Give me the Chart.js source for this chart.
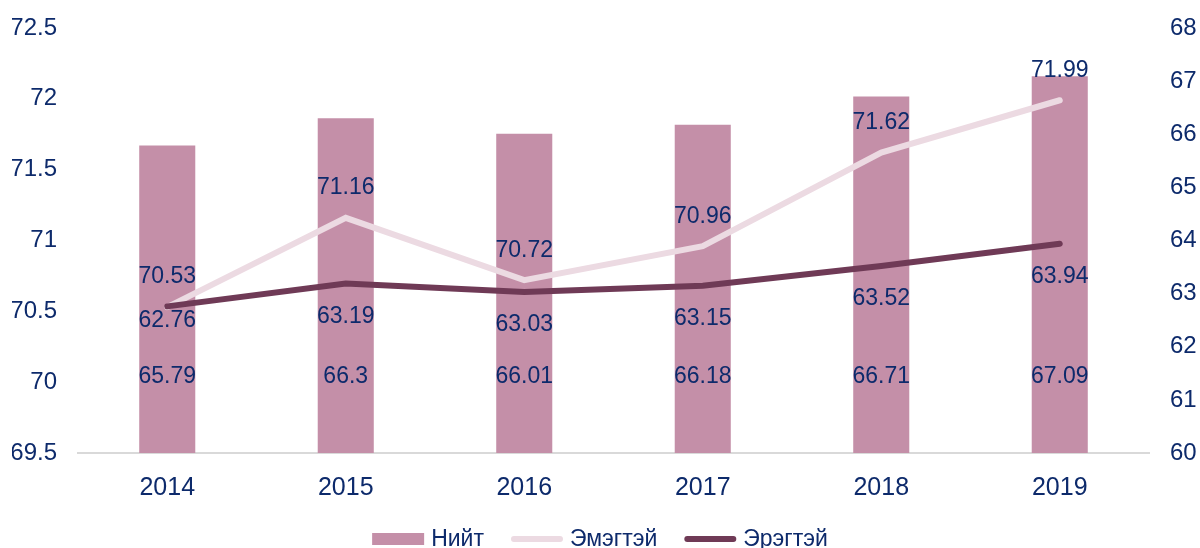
<!DOCTYPE html>
<html>
<head>
<meta charset="utf-8">
<script src="https://cdn.jsdelivr.net/npm/chart.js@4.4.0/dist/chart.umd.min.js"></script>
<style>
    html, body { margin: 0; padding: 0; background: #fff; }
</style>
</head>
<body>
<canvas id="chart" width="1200" height="548"></canvas>
<script>
const years = ["2014", "2015", "2016", "2017", "2018", "2019"];
const total = [65.79, 66.3, 66.01, 66.18, 66.71, 67.09];
const female = [70.53, 71.16, 70.72, 70.96, 71.62, 71.99];
const male = [62.76, 63.19, 63.03, 63.15, 63.52, 63.94];

const textColor = "#0d2a6b";
const fontFamily = "'Liberation Sans', Arial, sans-serif";

// value labels drawn next to each mark, like the original workbook chart
const valueLabels = {
    id: 'valueLabels',
    afterDatasetsDraw(chart) {
        const ctx = chart.ctx;
        const bottom = chart.chartArea.bottom;
        ctx.save();
        ctx.font = "23px " + fontFamily;
        ctx.fillStyle = textColor;
        ctx.textAlign = 'center';
        ctx.textBaseline = 'middle';

        chart.data.datasets.forEach((ds, di) => {
            const meta = chart.getDatasetMeta(di);
            meta.data.forEach((el, i) => {
                let y;
                if (ds.type === 'bar')
                    y = bottom - 76;
                else if (ds.label === 'Эмэгтэй')
                    y = el.y - 30;
                else
                    y = el.y + (i === 0 ? 14 : 33);
                ctx.fillText(String(ds.data[i]), el.x, y);
            });
        });
        ctx.restore();
    }
};

// bottom legend: wide bar swatch and thick line swatches, tighter than the built-in one
const bottomLegend = {
    id: 'bottomLegend',
    afterDraw(chart) {
        const ctx = chart.ctx;
        const markW = 52, textGap = 7, itemGap = 27;
        const y = chart.height - 9;
        ctx.save();
        ctx.font = "23px " + fontFamily;
        ctx.textBaseline = 'middle';
        ctx.textAlign = 'left';

        const items = chart.data.datasets.map(ds => ({
            ds: ds,
            w: markW + textGap + ctx.measureText(ds.label).width
        }));
        const totalW = items.reduce((s, it) => s + it.w, 0) + itemGap * (items.length - 1);
        let x = (chart.width - totalW) / 2;

        items.forEach(it => {
            const ds = it.ds;
            if (ds.type === 'bar') {
                ctx.fillStyle = ds.backgroundColor;
                ctx.fillRect(x, y - 6, markW, 12);
            } else {
                ctx.strokeStyle = ds.borderColor;
                ctx.lineWidth = 6;
                ctx.lineCap = 'round';
                ctx.beginPath();
                ctx.moveTo(x + 3, y);
                ctx.lineTo(x + markW - 3, y);
                ctx.stroke();
            }
            ctx.fillStyle = textColor;
            ctx.fillText(ds.label, x + markW + textGap, y + 1);
            x += it.w + itemGap;
        });
        ctx.restore();
    }
};

// fixed axis widths, and let the top tick sit close to the canvas edge
const fitAxis = (width) => (scale) => {
    scale.width = width;
    scale.paddingTop = 0;
    scale.paddingBottom = 0;
};

let config = {
    data: {
        labels: years,
        datasets: [
            {
                type: 'bar',
                label: 'Нийт',
                data: total,
                yAxisID: 'y1',
                backgroundColor: '#c48fa8',
                borderWidth: 0,
                categoryPercentage: 1,
                barPercentage: 0.314,
                order: 3
            },
            {
                type: 'line',
                label: 'Эмэгтэй',
                data: female,
                yAxisID: 'y',
                borderColor: '#ecdae2',
                backgroundColor: '#ecdae2',
                borderWidth: 6,
                borderCapStyle: 'round',
                pointRadius: 0,
                tension: 0,
                order: 2
            },
            {
                type: 'line',
                label: 'Эрэгтэй',
                data: male,
                yAxisID: 'y1',
                borderColor: '#6f3a56',
                backgroundColor: '#6f3a56',
                borderWidth: 6,
                borderCapStyle: 'round',
                pointRadius: 0,
                tension: 0,
                order: 1
            }
        ]
    },
    options: {
        responsive: false,
        animation: false,
        devicePixelRatio: 1,
        layout: {
            padding: { left: 12, right: 0, top: 28, bottom: 25 }
        },
        plugins: {
            tooltip: { enabled: false },
            legend: { display: false }
        },
        scales: {
            x: {
                grid: { display: false, drawTicks: false },
                border: { display: true, color: '#d9d9d9', width: 2 },
                ticks: {
                    color: textColor,
                    padding: 20,
                    font: { family: fontFamily, size: 25 }
                }
            },
            y: {
                position: 'left',
                min: 69.5,
                max: 72.5,
                grid: { display: false, drawTicks: false },
                border: { display: false },
                afterFit: fitAxis(66),
                ticks: {
                    stepSize: 0.5,
                    padding: 21,
                    color: textColor,
                    font: { family: fontFamily, size: 24 },
                    callback: (v) => String(v)
                }
            },
            y1: {
                position: 'right',
                min: 60,
                max: 68,
                grid: { display: false, drawTicks: false },
                border: { display: false },
                afterFit: fitAxis(51),
                ticks: {
                    stepSize: 1,
                    padding: 21,
                    color: textColor,
                    font: { family: fontFamily, size: 24 }
                }
            }
        }
    },
    plugins: [valueLabels, bottomLegend]
};

new Chart(document.getElementById('chart'), config);
</script>
</body>
</html>
